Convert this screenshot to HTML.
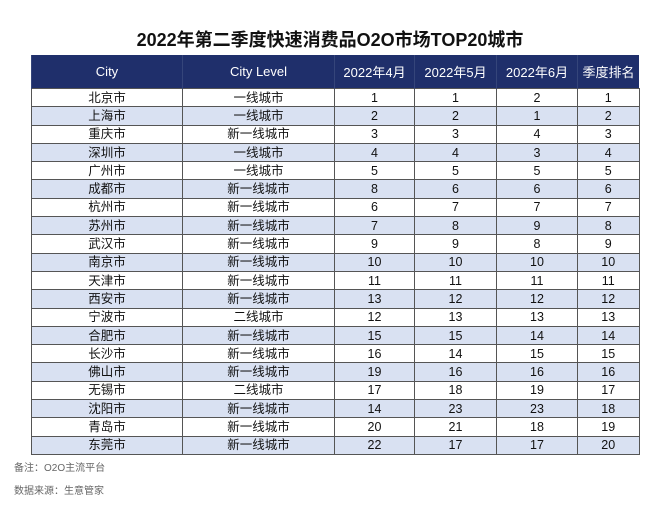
<!DOCTYPE html><html><head><meta charset="utf-8"><style>
body{margin:0;width:660px;height:516px;background:#fff;font-family:"Liberation Sans","Noto Sans CJK SC",sans-serif;position:relative;overflow:hidden}
.t{position:absolute;top:26px;left:0;width:660px;text-align:center;font-weight:bold;font-size:18px;color:#111}
table{position:absolute;left:31px;top:55px;border-collapse:collapse;font-size:12.5px;color:#111}
th{background:#1f2f6b;color:#fff;font-weight:normal;height:33px;font-size:13px;border-left:1px solid #35457a;padding:0}
td{height:17.3px;padding:0;text-align:center;border:1px solid #555;line-height:16px}
tr:nth-child(odd) td{background:#d9e1f2}
.n{position:absolute;left:14px;font-size:10px;color:#666}
</style></head><body>
<div class="t">2022年第二季度快速消费品O2O市场TOP20城市</div>
<table>
<tr><th style="width:150px">City</th><th style="width:151px">City Level</th><th style="width:79px">2022年4月</th><th style="width:81px">2022年5月</th><th style="width:80px">2022年6月</th><th style="width:61px">季度排名</th></tr>
<tr><td>北京市</td><td>一线城市</td><td>1</td><td>1</td><td>2</td><td>1</td></tr>
<tr><td>上海市</td><td>一线城市</td><td>2</td><td>2</td><td>1</td><td>2</td></tr>
<tr><td>重庆市</td><td>新一线城市</td><td>3</td><td>3</td><td>4</td><td>3</td></tr>
<tr><td>深圳市</td><td>一线城市</td><td>4</td><td>4</td><td>3</td><td>4</td></tr>
<tr><td>广州市</td><td>一线城市</td><td>5</td><td>5</td><td>5</td><td>5</td></tr>
<tr><td>成都市</td><td>新一线城市</td><td>8</td><td>6</td><td>6</td><td>6</td></tr>
<tr><td>杭州市</td><td>新一线城市</td><td>6</td><td>7</td><td>7</td><td>7</td></tr>
<tr><td>苏州市</td><td>新一线城市</td><td>7</td><td>8</td><td>9</td><td>8</td></tr>
<tr><td>武汉市</td><td>新一线城市</td><td>9</td><td>9</td><td>8</td><td>9</td></tr>
<tr><td>南京市</td><td>新一线城市</td><td>10</td><td>10</td><td>10</td><td>10</td></tr>
<tr><td>天津市</td><td>新一线城市</td><td>11</td><td>11</td><td>11</td><td>11</td></tr>
<tr><td>西安市</td><td>新一线城市</td><td>13</td><td>12</td><td>12</td><td>12</td></tr>
<tr><td>宁波市</td><td>二线城市</td><td>12</td><td>13</td><td>13</td><td>13</td></tr>
<tr><td>合肥市</td><td>新一线城市</td><td>15</td><td>15</td><td>14</td><td>14</td></tr>
<tr><td>长沙市</td><td>新一线城市</td><td>16</td><td>14</td><td>15</td><td>15</td></tr>
<tr><td>佛山市</td><td>新一线城市</td><td>19</td><td>16</td><td>16</td><td>16</td></tr>
<tr><td>无锡市</td><td>二线城市</td><td>17</td><td>18</td><td>19</td><td>17</td></tr>
<tr><td>沈阳市</td><td>新一线城市</td><td>14</td><td>23</td><td>23</td><td>18</td></tr>
<tr><td>青岛市</td><td>新一线城市</td><td>20</td><td>21</td><td>18</td><td>19</td></tr>
<tr><td>东莞市</td><td>新一线城市</td><td>22</td><td>17</td><td>17</td><td>20</td></tr>
</table>
<div class="n" style="top:459px">备注：O2O主流平台</div>
<div class="n" style="top:482px">数据来源：生意管家</div>
</body></html>
